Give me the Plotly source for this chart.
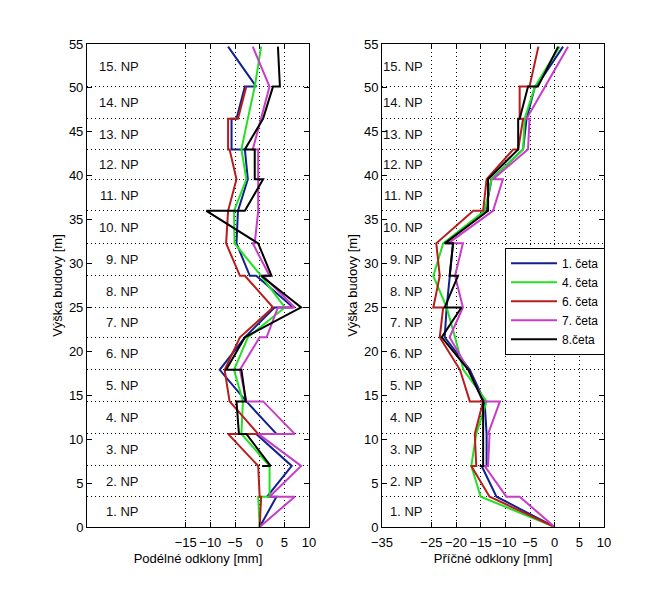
import plotly.graph_objects as go

# floor levels [m]
heights = [0, 3.45, 6.95, 10.6, 14.3, 17.9, 21.6, 25.0, 28.6, 32.3, 36.0, 39.6, 43.0, 46.5, 50.15, 54.7]
floor_names = ["1. NP", "2. NP", "3. NP", "4. NP", "5. NP", "6. NP", "7. NP", "8. NP",
               "9. NP", "10. NP", "11. NP", "12. NP", "13. NP", "14. NP", "15. NP"]
series_names = ["1. četa", "4. četa", "6. četa", "7. četa", "8.četa"]

# ---- Podélné odklony [mm]: value at bottom / top of each storey ----
L_c1_bot = [0, 1.5, 6.5, 3.4, -2.7, -8.1, -3.0, 6.8, -2.0, -4.7, -4.4, -2.4, -5.7, -4.7, -0.7]
L_c1_top = [3.4, 6.5, -0.7, -2.7, -8.1, -3.0, 3.0, -0.7, -4.7, -4.4, -2.4, -3.0, -5.7, -3.0, -6.4]
L_c4_bot = [0, 2.0, 2.0, -3.7, -3.4, -5.2, -2.4, 5.1, 0.3, -5.1, -5.2, -2.7, -3.7, -2.4, -1.0]
L_c4_top = [-0.3, 2.0, -3.7, -3.4, -5.2, -2.4, 5.1, 0.3, -5.1, -5.2, -2.7, -3.7, -2.4, -1.0, 0.3]
L_c6_bot = [0, 0.0, -0.3, -0.3, -6.1, -7.1, -4.0, 2.7, -4.0, -6.8, -6.4, -4.7, -6.4, -4.4, None]
L_c6_top = [0.3, -0.3, -6.4, -6.1, -7.1, -4.0, 2.7, -3.0, -6.8, -6.4, -4.7, -6.1, -6.4, -2.7, None]
L_c7_bot = [0, 2.0, 8.4, 7.1, -2.7, -4.0, 1.4, 7.1, 2.0, -1.0, -0.3, -0.3, -1.4, 0.3, 2.0]
L_c7_top = [7.1, 8.4, -0.3, 0.7, -4.0, 0.0, 3.7, 0.7, -1.4, -0.3, -0.3, -0.3, 0.3, 2.0, -1.4]
L_c8_bot = [None, None, 2.2, -4.2, -2.8, -6.8, -3.0, 8.4, 2.4, -0.3, -3.0, -1.0, -3.0, 0.7, 4.1]
L_c8_top = [None, 0.5, -2.7, -4.7, -3.7, -3.0, 8.4, 0.3, -0.3, -10.8, 0.7, -1.0, 0.7, 2.7, 3.7]

# ---- Příčné odklony [mm] ----
R_c1_bot = [0, -11.8, -13.8, -13.8, -14.2, -17.2, -22.3, -21.9, -21.3, -22.3, -14.0, -12.8, -6.4, -5.7, -3.7]
R_c1_top = [-11.8, -14.8, -13.8, -14.2, -17.2, -22.3, -21.9, -21.3, -20.6, -14.0, -12.8, -6.4, -5.7, -4.0, 1.7]
R_c4_bot = [0, -15.0, -16.9, -15.9, -13.8, -18.5, -20.2, -21.9, -24.6, -22.6, -14.2, -12.8, -6.4, -6.1, -4.0]
R_c4_top = [-15.0, -16.9, -15.9, -13.8, -18.5, -20.2, -21.9, -24.6, -22.6, -14.2, -12.8, -6.4, -6.1, -4.0, 1.0]
R_c6_bot = [0, -13.2, -15.9, -16.2, -17.2, -19.2, -23.3, -24.6, -23.3, -24.0, -14.5, -13.8, -7.4, -7.1, -5.1]
R_c6_top = [-13.2, -16.9, -16.2, -14.5, -19.2, -23.3, -22.6, -23.3, -24.0, -16.5, -13.8, -8.4, -6.4, -7.1, -3.3]
R_c7_bot = [0, -9.8, -13.5, -13.5, -14.5, -17.5, -21.3, -18.6, -20.2, -21.6, -12.5, -12.5, -5.4, -5.7, -2.0]
R_c7_top = [-7.1, -14.2, -13.2, -11.1, -17.5, -21.3, -18.6, -20.2, -18.6, -12.5, -10.5, -5.4, -5.1, -2.0, 2.7]
R_c8_bot = [None, None, -14.5, -14.5, -14.5, -17.5, -22.9, -22.3, -21.3, -22.3, -13.5, -13.5, -7.4, -7.1, -3.4]
R_c8_top = [None, -15.2, -14.5, -14.5, -17.5, -22.9, -18.9, -19.6, -20.6, -13.5, -13.5, -7.4, -7.4, -5.4, 0.7]

left_ticks = [-15, -10, -5, 0, 5, 10]
right_ticks = [-35, -25, -20, -15, -10, -5, 0, 5, 10]
y_ticks = [0, 5, 10, 15, 20, 25, 30, 35, 40, 45, 50, 55]

colors = ["#12208f", "#22e022", "#b81c1c", "#c83cc8", "#000000"]
FONT = "Liberation Sans, Arial, sans-serif"


def path(bot, top):
    xs, ys = [], []
    for i in range(len(bot)):
        xs += [bot[i], top[i]]
        ys += [heights[i], heights[i + 1]]
    return xs, ys


left = [(L_c1_bot, L_c1_top), (L_c4_bot, L_c4_top), (L_c6_bot, L_c6_top),
        (L_c7_bot, L_c7_top), (L_c8_bot, L_c8_top)]
right = [(R_c1_bot, R_c1_top), (R_c4_bot, R_c4_top), (R_c6_bot, R_c6_top),
         (R_c7_bot, R_c7_top), (R_c8_bot, R_c8_top)]

fig = go.Figure()
for k, (b, t) in enumerate(left):
    xs, ys = path(b, t)
    fig.add_trace(go.Scatter(x=xs, y=ys, mode="lines", xaxis="x", yaxis="y",
                             line=dict(color=colors[k], width=2), showlegend=False,
                             name=series_names[k]))
for k, (b, t) in enumerate(right):
    xs, ys = path(b, t)
    fig.add_trace(go.Scatter(x=xs, y=ys, mode="lines", xaxis="x2", yaxis="y2",
                             line=dict(color=colors[k], width=2), showlegend=True,
                             name=series_names[k]))

mids = [(heights[i] + heights[i + 1]) / 2 for i in range(15)]
for i, nm in enumerate(floor_names):
    fig.add_annotation(x=-24, y=mids[i], xref="x", yref="y", text=nm, showarrow=False,
                       xanchor="right", yanchor="middle", font=dict(family=FONT, size=13, color="#111"))
    fig.add_annotation(x=-26.3, y=mids[i], xref="x2", yref="y2", text=nm, showarrow=False,
                       xanchor="right", yanchor="middle", font=dict(family=FONT, size=13, color="#111"))

dot = "1px,3px"
common_x = dict(range=[-35, 10], tickmode="array", ticks="inside", ticklen=5, tickcolor="black",
                showline=True, mirror="ticks", linecolor="black", linewidth=1,
                showgrid=True, gridcolor="black", griddash=dot, gridwidth=1, zeroline=False,
                automargin=False, ticklabelstandoff=3,
                tickfont=dict(family=FONT, size=13, color="black"),
                title_font=dict(family=FONT, size=13, color="black"))
common_y = dict(range=[0, 55], tickmode="array", tickvals=y_ticks, ticks="inside", ticklen=5,
                tickcolor="black", showline=True, mirror="ticks", linecolor="black", linewidth=1,
                showgrid=False, zeroline=False, automargin=False,
                minor=dict(tickmode="array", tickvals=heights[1:15], showgrid=True, gridcolor="black",
                           griddash=dot, gridwidth=1, ticks=""),
                tickfont=dict(family=FONT, size=13, color="black"),
                title_font=dict(family=FONT, size=13, color="black"))

ydom = [0.1113, 0.9258]
fig.update_layout(
    width=668, height=593,
    margin=dict(l=0, r=0, t=0, b=0),
    paper_bgcolor="white", plot_bgcolor="white",
    font=dict(family=FONT, size=13, color="black"),
    xaxis=dict(common_x, domain=[0.1302, 0.4626], tickvals=left_ticks, anchor="y",
               title=dict(text="Podélné odklony [mm]", standoff=5)),
    yaxis=dict(common_y, domain=ydom, anchor="x",
               title=dict(text="Výška budovy [m]", standoff=3)),
    xaxis2=dict(common_x, domain=[0.5719, 0.9042], tickvals=right_ticks, anchor="y2",
                title=dict(text="Příčné odklony [mm]", standoff=5)),
    yaxis2=dict(common_y, domain=ydom, anchor="x2",
                title=dict(text="Výška budovy [m]", standoff=3)),
    legend=dict(x=0.756, y=0.5823, xanchor="left", yanchor="top", bgcolor="white",
                bordercolor="black", borderwidth=1, font=dict(family=FONT, size=12, color="black"),
                tracegroupgap=0, itemwidth=46),
)

fig.write_html("out.html", config={"displayModeBar": False},
               post_script="document.body.style.margin='0px';")
